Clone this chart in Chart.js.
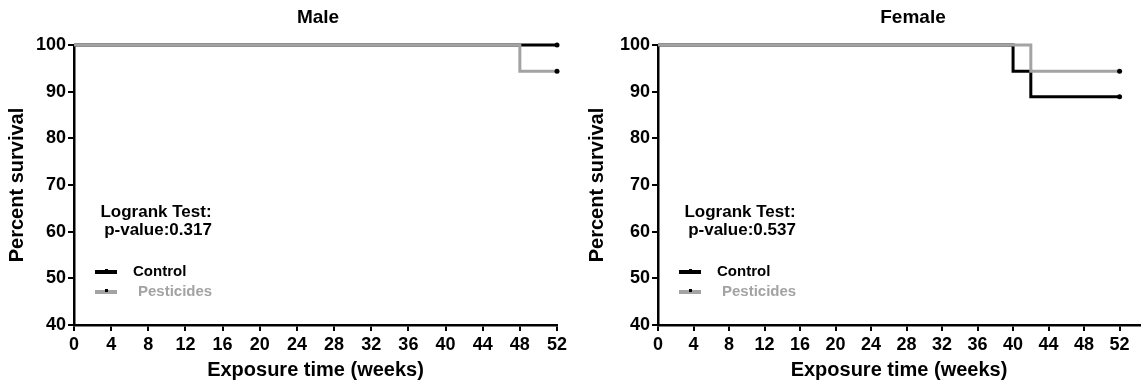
<!DOCTYPE html>
<html>
<head>
<meta charset="utf-8">
<script src="https://cdn.jsdelivr.net/npm/chart.js@4"></script>
<style>
    html, body { margin: 0; padding: 0; background: #ffffff; }
    .panel { position: absolute; top: 0; height: 391px; }
</style>
</head>
<body>
<div class="panel" style="left:0;width:580px"><canvas id="maleChart" width="580" height="391"></canvas></div>
<div class="panel" style="left:580px;width:564px"><canvas id="femaleChart" width="564" height="391"></canvas></div>
<script>
// Осі
const xTicks = [0, 4, 8, 12, 16, 20, 24, 28, 32, 36, 40, 44, 48, 52];
const yTicks = [40, 50, 60, 70, 80, 90, 100];

// Криві Каплана-Мейєра (тижні / % виживання)
const maleControlWeeks = [0, 52];
const maleControlSurvival = [100, 100];
const malePesticidesWeeks = [0, 48, 52];
const malePesticidesSurvival = [100, 94.4, 94.4];

const femaleControlWeeks = [0, 40, 42, 52];
const femaleControlSurvival = [100, 94.4, 88.9, 88.9];
const femalePesticidesWeeks = [0, 42, 52];
const femalePesticidesSurvival = [100, 94.4, 94.4];

const seriesNames = ["Control", "Pesticides"];
const seriesColors = ["#000000", "#a3a3a3"];

const FONT = "'Liberation Sans', Arial, sans-serif";
Chart.defaults.font.family = FONT;
Chart.defaults.font.weight = "bold";
Chart.defaults.color = "#000000";

function toPoints(weeks, values) {
    return weeks.map((w, i) => ({ x: w, y: values[i] }));
}

// Заголовок, тест логрангу та легенда всередині області графіка
const annotationsPlugin = {
    id: "kmAnnotations",
    afterDatasetsDraw(chart, args, opts) {
        const ctx = chart.ctx;
        const area = chart.chartArea;
        ctx.save();

        ctx.fillStyle = "#000000";
        ctx.textAlign = "center";
        ctx.textBaseline = "middle";
        ctx.font = `bold 19px ${FONT}`;
        ctx.fillText(opts.title, opts.titleX, 18);

        ctx.font = `bold 17px ${FONT}`;
        const cx = area.left + 82;
        ctx.fillText("Logrank Test:", cx, 212);
        ctx.fillText(opts.pValue, cx + 2, 230);

        ctx.textAlign = "left";
        ctx.font = `bold 15px ${FONT}`;
        const rows = [272, 292];
        const textOffsets = [59, 64];
        seriesNames.forEach((name, i) => {
            const y = rows[i];
            ctx.strokeStyle = seriesColors[i];
            ctx.lineWidth = 4;
            ctx.beginPath();
            ctx.moveTo(area.left + 21, y);
            ctx.lineTo(area.left + 43, y);
            ctx.stroke();
            ctx.fillStyle = "#000000";
            ctx.fillRect(area.left + 31, y - 3, 3, 3);
            ctx.fillStyle = seriesColors[i];
            ctx.fillText(name, area.left + textOffsets[i], y);
        });
        ctx.restore();
    },
};

function lastPointRadius(ctx) {
    return ctx.dataIndex === ctx.dataset.data.length - 1 ? 2.5 : 0;
}

function renderSurvivalChart(canvasId, cfg) {
    const ctx = document.getElementById(canvasId).getContext("2d");
    const series = [
        { weeks: cfg.pestWeeks, values: cfg.pestSurvival, idx: 1 },
        { weeks: cfg.controlWeeks, values: cfg.controlSurvival, idx: 0 },
    ];
    return new Chart(ctx, {
        type: "line",
        data: {
            datasets: series.map((s) => ({
                label: seriesNames[s.idx],
                data: toPoints(s.weeks, s.values),
                borderColor: seriesColors[s.idx],
                backgroundColor: "#000000",
                borderWidth: 3,
                stepped: true,
                clip: false,
                pointRadius: lastPointRadius,
                pointBorderWidth: 0,
            })),
        },
        options: {
            responsive: false,
            animation: false,
            layout: {
                padding: { top: 45, right: cfg.padRight, bottom: 0, left: 0 },
            },
            plugins: {
                legend: { display: false },
                tooltip: { enabled: false },
                kmAnnotations: {
                    title: cfg.title,
                    titleX: cfg.titleX,
                    pValue: cfg.pValue,
                },
            },
            scales: {
                x: {
                    type: "linear",
                    min: 0,
                    max: cfg.xMax,
                    afterBuildTicks: (scale) => {
                        scale.ticks = xTicks.map((v) => ({ value: v }));
                    },
                    afterFit: (scale) => {
                        scale.height = 66;
                    },
                    ticks: {
                        font: { size: 18, weight: "bold" },
                        color: "#000000",
                        padding: 3,
                        maxRotation: 0,
                        autoSkip: false,
                    },
                    grid: {
                        drawOnChartArea: false,
                        drawTicks: true,
                        tickLength: 6,
                        color: "#000000",
                        lineWidth: 2,
                    },
                    border: { color: "#000000", width: 2.5 },
                    title: {
                        display: true,
                        text: "Exposure time (weeks)",
                        font: { size: 20, weight: "bold" },
                        color: "#000000",
                        padding: { top: 0, bottom: 9 },
                    },
                },
                y: {
                    min: 40,
                    max: 100,
                    afterBuildTicks: (scale) => {
                        scale.ticks = yTicks.map((v) => ({ value: v }));
                    },
                    afterFit: (scale) => {
                        scale.width = cfg.yWidth;
                    },
                    ticks: {
                        font: { size: 18, weight: "bold" },
                        color: "#000000",
                        padding: 2,
                    },
                    grid: {
                        drawOnChartArea: false,
                        drawTicks: true,
                        tickLength: 6,
                        color: "#000000",
                        lineWidth: 2,
                    },
                    border: { color: "#000000", width: 2.5 },
                    title: {
                        display: true,
                        text: "Percent survival",
                        font: { size: 20, weight: "bold" },
                        color: "#000000",
                        padding: { top: 5, bottom: 0 },
                    },
                },
            },
        },
        plugins: [annotationsPlugin],
    });
}

renderSurvivalChart("maleChart", {
    title: "Male",
    titleX: 318,
    pValue: "p-value:0.317",
    xMax: 52,
    yWidth: 74,
    padRight: 23,
    controlWeeks: maleControlWeeks,
    controlSurvival: maleControlSurvival,
    pestWeeks: malePesticidesWeeks,
    pestSurvival: malePesticidesSurvival,
});

renderSurvivalChart("femaleChart", {
    title: "Female",
    titleX: 333,
    pValue: "p-value:0.537",
    xMax: 54.3,
    yWidth: 78,
    padRight: 2,
    controlWeeks: femaleControlWeeks,
    controlSurvival: femaleControlSurvival,
    pestWeeks: femalePesticidesWeeks,
    pestSurvival: femalePesticidesSurvival,
});
</script>
</body>
</html>
